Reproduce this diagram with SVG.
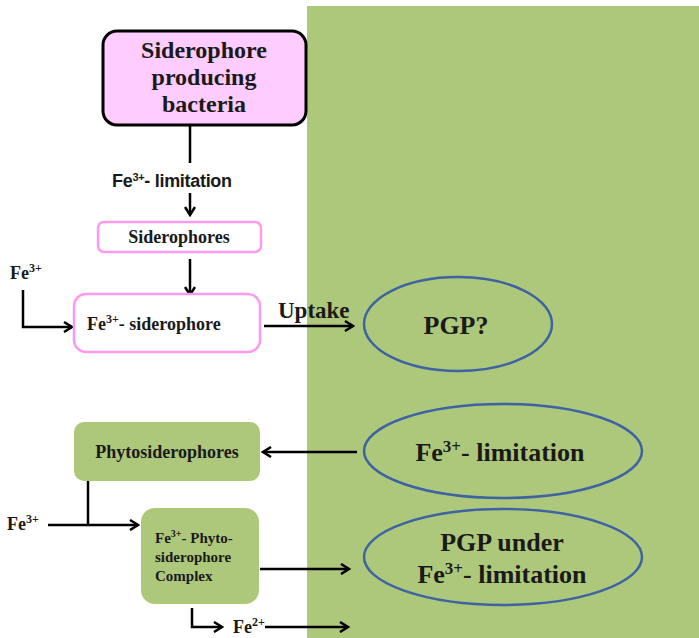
<svg xmlns="http://www.w3.org/2000/svg" width="699" height="638" viewBox="0 0 699 638">
<style>
.serif{font-family:"Liberation Serif","Times New Roman",serif;font-weight:bold;fill:#1a1a1a}
.sans{font-family:"Liberation Sans",Arial,sans-serif;font-weight:bold;fill:#1a1a1a}
.ln{stroke:#000;stroke-width:2.5;fill:none}
.arr{marker-end:url(#ah)}
.ell{fill:none;stroke:#3d63a3;stroke-width:2.5}
.green{fill:#adc87a}
</style>
<defs>
<marker id="ah" viewBox="0 0 12 12" refX="10" refY="6" markerWidth="12" markerHeight="12" markerUnits="userSpaceOnUse" orient="auto">
<path d="M2,1 L10,6 L2,11" fill="none" stroke="#000" stroke-width="2.5"/>
</marker>
</defs>
<rect width="699" height="638" fill="#fff"/>
<rect x="307" y="6" width="392" height="632" class="green"/>

<g id="connectors">
<line class="ln" x1="190" y1="126" x2="190" y2="163"/>
<line class="ln arr" x1="190" y1="193" x2="190" y2="215"/>
<line class="ln arr" x1="190" y1="259" x2="190" y2="295"/>
<polyline class="ln arr" points="23,290 23,327 72,327"/>
<line class="ln arr" x1="264" y1="326" x2="353" y2="326"/>
<text class="serif" x="278" y="318" font-size="23">Uptake</text>
<line class="ln arr" x1="357" y1="452" x2="263" y2="452"/>
<line class="ln" x1="88" y1="481" x2="88" y2="525"/>
<line class="ln arr" x1="48" y1="525" x2="138" y2="525"/>
<line class="ln arr" x1="260" y1="569" x2="349" y2="569"/>
<polyline class="ln arr" points="192,608 192,627 222,627"/>
<line class="ln arr" x1="265" y1="627" x2="348" y2="627"/>
<text class="sans" x="112" y="187" font-size="18" letter-spacing="-0.3">Fe<tspan font-size="11" dy="-6">3+</tspan><tspan dy="6">- limitation</tspan></text>
<text class="serif" x="10" y="279" font-size="18">Fe<tspan font-size="12" dy="-7">3+</tspan></text>
<text class="serif" x="7" y="530" font-size="18">Fe<tspan font-size="12" dy="-7">3+</tspan></text>
<text class="serif" x="233" y="633" font-size="18">Fe<tspan font-size="12" dy="-7">2+</tspan></text>
</g>

<g id="bacteria">
<rect x="103" y="31" width="203" height="94" rx="14" fill="#ffccff" stroke="#000" stroke-width="3"/>
<text class="serif" x="204" y="58" font-size="24" text-anchor="middle">Siderophore</text>
<text class="serif" x="204" y="85" font-size="24" text-anchor="middle">producing</text>
<text class="serif" x="204" y="112" font-size="24" text-anchor="middle">bacteria</text>
</g>

<g id="siderophores">
<rect x="98" y="222" width="163" height="30" rx="6" fill="#fff" stroke="#ff99ee" stroke-width="2.5"/>
<text class="serif" x="179" y="243" font-size="18" text-anchor="middle">Siderophores</text>
</g>

<g id="fe-siderophore">
<rect x="74" y="294" width="186" height="58" rx="12" fill="#fff" stroke="#ff99ee" stroke-width="2.5"/>
<text class="serif" x="87" y="330" font-size="18">Fe<tspan font-size="12" dy="-7">3+</tspan><tspan dy="7">- siderophore</tspan></text>
</g>

<g id="pgp">
<ellipse class="ell" cx="458" cy="324" rx="94" ry="47"/>
<text class="serif" x="456" y="334" font-size="26" text-anchor="middle">PGP?</text>
</g>

<g id="limitation">
<ellipse class="ell" cx="503" cy="451" rx="139" ry="47"/>
<text class="serif" x="500" y="461" font-size="26" text-anchor="middle">Fe<tspan font-size="17" dy="-9">3+</tspan><tspan dy="9">- limitation</tspan></text>
</g>

<g id="pgp-under">
<ellipse class="ell" cx="503" cy="557" rx="139" ry="48"/>
<text class="serif" x="502" y="551" font-size="26" text-anchor="middle">PGP under</text>
<text class="serif" x="502" y="583" font-size="26" text-anchor="middle">Fe<tspan font-size="17" dy="-9">3+</tspan><tspan dy="9">- limitation</tspan></text>
</g>

<g id="phytosiderophores">
<rect x="74" y="422" width="186" height="59" rx="10" class="green"/>
<text class="serif" x="167" y="458" font-size="18" text-anchor="middle">Phytosiderophores</text>
</g>

<g id="complex">
<rect x="141" y="508" width="118" height="96" rx="14" class="green"/>
<text class="serif" x="155" y="543" font-size="15">Fe<tspan font-size="10" dy="-6">3+</tspan><tspan dy="6">- Phyto-</tspan></text>
<text class="serif" x="155" y="562" font-size="15">siderophore</text>
<text class="serif" x="155" y="581" font-size="15">Complex</text>
</g>
</svg>
